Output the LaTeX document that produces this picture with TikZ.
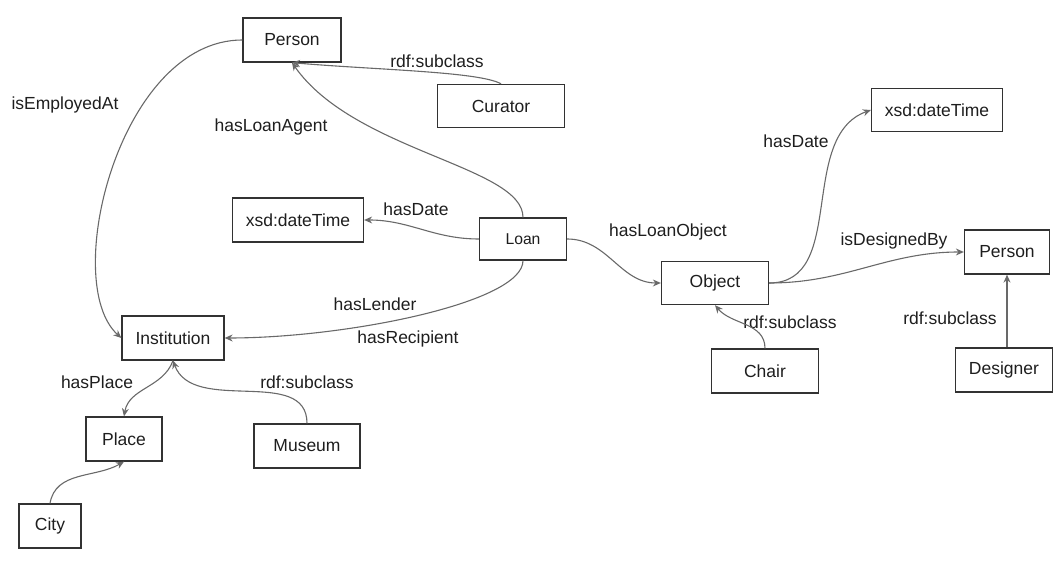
\documentclass[tikz,border=0pt]{standalone}
\definecolor{boxline}{RGB}{50, 50, 50}
\definecolor{edgegray}{RGB}{105, 105, 105}
\definecolor{txt}{RGB}{30, 30, 30}
\usepackage{fontspec}
\setmainfont{Liberation Sans}
\usepackage{tikz}
\usetikzlibrary{arrows.meta, positioning, calc}

\begin{document}
\begin{tikzpicture}[x=1pt, y=1pt,
    cls/.style={draw=boxline, line width=1.3pt, minimum height=44pt, inner sep=0pt, text=txt, font=\fontsize{17.5}{21}\selectfont},
    rel/.style={-{Stealth[length=8pt, width=7pt]}, draw=edgegray, line width=1.1pt},
    lbl/.style={text=txt, inner sep=0pt, font=\fontsize{17.5}{21}\selectfont}]
    \useasboundingbox (0,0) rectangle (1053,567);

    % Classes
    \node[cls, minimum width=98pt] (person) at (292,527) {Person};
    \node[cls, minimum width=127pt, minimum height=43pt] (curator) at (501,461) {Curator};
    \node[cls, minimum width=131pt] (dateL) at (298,347) {xsd:dateTime};
    \node[cls, minimum width=87pt, minimum height=42pt, font=\fontsize{15.7}{19}\selectfont] (loan) at (523,328) {Loan};
    \node[cls, minimum width=107pt, minimum height=43pt] (object) at (715,284) {Object};
    \node[cls, minimum width=131pt, minimum height=43pt] (dateR) at (937,457) {xsd:dateTime};
    \node[cls, minimum width=85pt] (designer-p) at (1007,315) {Person};
    \node[cls, minimum width=97pt] (designer) at (1004,197) {Designer};
    \node[cls, minimum width=107pt] (chair) at (765,196) {Chair};
    \node[cls, minimum width=102pt] (inst) at (173,229) {Institution};
    \node[cls, minimum width=76pt] (place) at (124,128) {Place};
    \node[cls, minimum width=106pt] (museum) at (307,121) {Museum};
    \node[cls, minimum width=62pt] (city) at (50,41) {City};

    % Properties
    \node[lbl] (l-employed) at (65,462) {isEmployedAt};
    \node[lbl] (l-agent) at (271,440) {hasLoanAgent};
    \node[lbl] (l-curator) at (437,506) {rdf:subclass};
    \node[lbl] (l-dateL) at (416,358) {hasDate};
    \node[lbl] (l-lender) at (375,263) {hasLender};
    \node[lbl] (l-recipient) at (408,228) {hasRecipient};
    \node[lbl] (l-object) at (668,335) {hasLoanObject};
    \node[lbl] (l-dateR) at (796,426) {hasDate};
    \node[lbl] (l-designed) at (894,326) {isDesignedBy};
    \node[lbl] (l-chair) at (790,245) {rdf:subclass};
    \node[lbl] (l-designer) at (950,249) {rdf:subclass};
    \node[lbl] (l-place) at (97,185) {hasPlace};
    \node[lbl] (l-museum) at (307,185) {rdf:subclass};

    % Connectors
    \draw[rel] (person.west) to[out=180, in=138, out looseness=0.98, in looseness=0.66] (inst.west);
    \draw[rel] (loan.north) to[out=90, in=-55, out looseness=0.47] (person.south);
    \draw[rel] (curator.north) to[out=150, in=-5, out looseness=0.3] (person.south);
    \draw[rel] (loan.west) to[out=180, in=0] (dateL.east);
    \draw[rel] (loan.south) to[out=-90, in=0, out looseness=0.35] (inst.east);
    \draw[rel] (loan.east) to[out=0, in=180] (object.west);
    \draw[rel] (object.east) to[out=0, in=200] (dateR.west);
    \draw[rel] (object.east) to[out=0, in=180] (designer-p.west);
    \draw[rel] (chair.north) to[out=90, in=-50] (object.south);
    \draw[rel] (designer.north -| designer-p.south) -- (designer-p.south);
    \draw[rel] (inst.south) to[out=-110, in=80] (place.north);
    \draw[rel] (museum.north) to[out=90, in=-70] (inst.south);
    \draw[rel] (city.north) to[out=80, in=-150] (place.south);
  \end{tikzpicture}
\end{document}
